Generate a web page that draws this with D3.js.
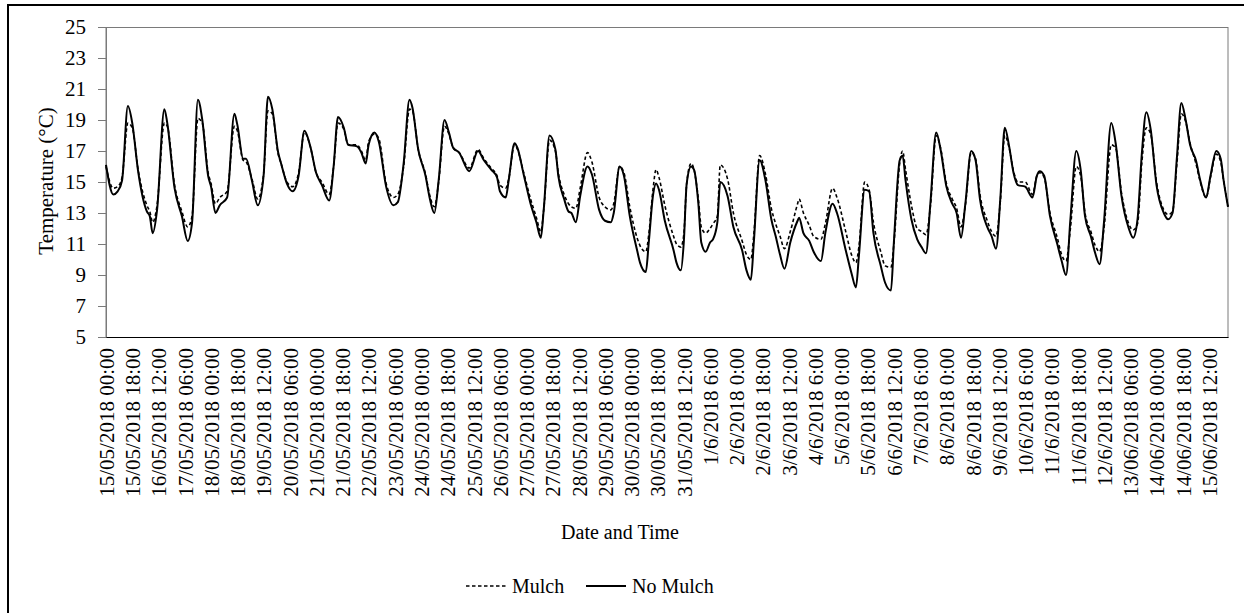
<!DOCTYPE html>
<html>
<head>
<meta charset="utf-8">
<script src="https://cdn.jsdelivr.net/npm/d3@7"></script>
<style>
  body { margin: 0; background: #fff; }
  text { font-family: "Liberation Serif", "Times New Roman", serif; fill: #000; }
</style>
</head>
<body>
<svg id="chart" width="1244" height="613"></svg>
<script>
// Hours elapsed since 15/05/2018 00:00 for each recorded point
const hours = [0,5,8,11,15,18,22,28,30,32,35,40,42,47,52,56,59,63,66,70,72,75,78,83,88,90,94,96,100,104,108,111,114,118,120,124,128,132,136,140,144,148,153,156,159,163,166,172,175,178,180,184,187,192,197,200,204,208,210,214,219,222,225,228,232,235,238,242,249,255,259,264,268,270,274,276,280,282,286,291,295,298,300,304,308,310,314,317,319,322,325,330,333,338,342,346,348,352,355,359,364,366,370,372,375,377,379,383,389,391,394,396,398,401,403,406,408,411,414,416,419,421,426,430,436,439,442,444,448,452,456,459,462,465,469,474,475,478,482,485,490,493,498,501,507,511,514,516,520,523,526,531,534,538,540,544,546,548,552,556,559,562,565,569,572,576,580,583,586,589,593,596,599,604,607,610,613,616,619,622,625,630,635,638,640,643,647,652,655,658,661,665,668,671,675,678,681,684,689,692,696,701,704,707,710,713,716,720,725,728,731,734,737,740,743,747,750,754,757,761,764,766,769];

// Temperature (°C) without mulch
const noMulch = [16.1,14.2,14.4,15.1,19.9,18.8,15.7,13.1,12.8,11.7,13.2,19.7,18.8,14.6,12.8,11.2,12.4,20.3,19.0,15.4,14.7,13.0,13.5,14.0,19.4,18.7,16.5,16.5,15.1,13.5,15.4,20.5,19.7,16.9,16.2,14.9,14.4,15.4,18.3,17.3,15.6,14.8,13.8,16.0,19.2,18.5,17.4,17.3,16.9,16.2,17.4,18.2,17.6,14.7,13.5,13.7,16.2,20.3,19.8,17.1,15.4,13.9,13.0,15.1,19.0,18.2,17.2,16.9,15.7,17.0,16.4,15.8,15.3,14.4,14.0,15.1,17.5,17.2,15.6,13.6,12.4,11.4,13.2,18.0,17.1,15.4,13.9,13.1,13.0,12.4,14.1,16.0,15.5,13.2,12.5,12.4,13.0,16.0,15.4,12.8,10.6,9.8,9.2,11.1,14.2,14.9,14.5,12.5,10.6,9.8,9.3,11.1,14.9,16.0,15.8,13.6,11.1,10.5,11.1,11.3,12.4,15.0,14.1,12.1,10.6,9.3,8.7,11.1,16.4,15.1,12.6,11.5,10.3,9.4,11.1,12.5,12.7,11.7,11.2,10.5,9.9,11.7,13.6,13.0,10.6,9.1,8.2,10.2,14.5,14.4,11.7,9.6,8.5,8.0,11.1,16.4,16.7,15.1,12.6,11.3,10.8,10.4,13.6,18.2,17.1,14.7,13.6,13.0,11.4,13.6,17.0,16.4,13.9,12.1,11.5,10.7,14.0,18.5,17.3,15.6,14.8,14.7,14.0,15.4,15.7,15.4,12.8,11.0,9.9,9.0,12.6,17.0,15.8,12.8,11.5,10.4,9.7,12.4,18.8,17.5,14.1,12.0,11.4,12.6,16.9,19.5,18.4,14.8,13.0,12.6,13.0,16.6,20.1,19.0,17.4,16.4,15.1,14.0,15.4,17.0,16.5,15.1,13.4];

// Temperature (°C) with mulch
const mulch = [16.0,14.6,14.7,15.3,18.8,18.5,15.8,13.5,13.1,12.4,13.5,18.8,18.6,14.8,13.1,12.1,12.8,19.1,18.8,15.6,14.9,13.6,14.0,14.4,18.6,18.3,16.4,16.3,15.2,13.9,15.5,19.6,19.4,16.8,16.2,15.0,14.7,15.6,18.2,17.3,15.6,15.0,14.2,16.0,18.8,18.4,17.4,17.4,17.0,16.4,17.6,18.1,17.8,14.9,14.0,14.2,16.0,19.7,19.6,17.1,15.5,14.1,13.4,15.0,18.6,18.1,17.2,16.9,15.9,17.1,16.5,15.9,15.4,14.8,14.6,15.2,17.4,17.1,15.7,13.9,12.7,11.8,13.2,17.7,17.0,15.6,14.2,13.6,13.4,13.3,14.6,16.9,16.3,14.0,13.4,13.2,13.6,16.0,15.6,13.4,11.4,10.9,10.5,11.6,14.6,15.8,15.3,13.5,11.5,11.0,10.8,11.6,14.9,16.2,15.8,13.9,12.1,11.7,12.0,12.3,12.8,16.1,15.2,13.0,11.2,10.3,10.0,11.6,16.7,15.5,13.3,12.3,11.5,10.7,11.8,13.6,13.9,13.0,12.2,11.5,11.3,12.3,14.6,14.0,11.8,10.3,9.8,10.8,15.0,14.5,12.4,10.5,9.6,9.5,11.0,16.2,17.0,15.8,13.5,12.0,11.8,11.6,13.4,18.0,17.2,14.9,13.9,13.3,12.1,13.5,16.9,16.5,14.2,12.5,11.8,11.5,13.8,18.0,17.2,15.7,15.0,15.0,14.2,15.4,15.6,15.3,13.0,11.4,10.3,9.9,12.0,16.0,15.4,13.0,11.8,10.9,10.5,12.0,17.4,17.2,14.3,12.3,11.9,12.3,16.3,18.5,18.1,15.0,13.2,12.9,13.1,16.2,19.4,18.9,17.5,16.2,15.0,14.0,15.3,16.8,16.3,15.1,13.4];

// Category labels shown every 18 hours
const xLabels = ["15/05/2018 00:00","15/05/2018 18:00","16/05/2018 12:00","17/05/2018 06:00","18/05/2018 00:00","18/05/2018 18:00","19/05/2018 12:00","20/05/2018 06:00","21/05/2018 00:00","21/05/2018 18:00","22/05/2018 12:00","23/05/2018 06:00","24/05/2018 00:00","24/05/2018 18:00","25/05/2018 12:00","26/05/2018 06:00","27/05/2018 00:00","27/05/2018 18:00","28/05/2018 12:00","29/05/2018 06:00","30/05/2018 00:00","30/05/2018 18:00","31/05/2018 12:00","1/6/2018 6:00","2/6/2018 0:00","2/6/2018 18:00","3/6/2018 12:00","4/6/2018 6:00","5/6/2018 0:00","5/6/2018 18:00","6/6/2018 12:00","7/6/2018 6:00","8/6/2018 0:00","8/6/2018 18:00","9/6/2018 12:00","10/6/2018 6:00","11/6/2018 0:00","11/6/2018 18:00","12/6/2018 12:00","13/06/2018 06:00","14/06/2018 00:00","14/06/2018 18:00","15/06/2018 12:00"];
const labelStep = 18;
const lastHour = 769;

const yTicks = [5,7,9,11,13,15,17,19,21,23,25];

const svg = d3.select("#chart");
const plot = { left: 106, right: 1228, top: 27, bottom: 337 };

const x = d3.scaleLinear().domain([0, lastHour]).range([plot.left, plot.right]);
const y = d3.scaleLinear().domain([5, 25]).range([plot.bottom, plot.top]);

// Outer chart frame
svg.append("rect")
  .attr("x", 8).attr("y", 5)
  .attr("width", 1300).attr("height", 700)
  .attr("fill", "none").attr("stroke", "#000").attr("stroke-width", 2);

// Plot area border
svg.append("rect")
  .attr("x", plot.left).attr("y", plot.top + 0.5)
  .attr("width", plot.right - plot.left).attr("height", plot.bottom - plot.top)
  .attr("fill", "none").attr("stroke", "#7a7a7a").attr("stroke-width", 1);

// Y axis
const yAxis = d3.axisLeft(y).tickValues(yTicks).tickSize(8).tickPadding(12).tickFormat(d3.format("d"));
const gy = svg.append("g").attr("transform", `translate(${plot.left},0)`).call(yAxis);
gy.select(".domain").attr("stroke", "#7a7a7a");
gy.selectAll(".tick line").attr("stroke", "#7a7a7a");
gy.selectAll(".tick text")
  .style("font-family", "'Liberation Serif', 'Times New Roman', serif")
  .style("font-size", "21px").attr("fill", "#000");

// X axis (category labels, rotated)
const tickHours = xLabels.map((_, i) => i * labelStep);
const xAxis = d3.axisBottom(x).tickValues(tickHours).tickSize(0).tickPadding(0)
  .tickFormat((d, i) => xLabels[i]);
const gx = svg.append("g").attr("transform", `translate(0,${plot.bottom})`).call(xAxis);
gx.select(".domain").attr("stroke", "#000").attr("stroke-width", 1.2);
gx.selectAll(".tick text")
  .style("font-family", "'Liberation Serif', 'Times New Roman', serif")
  .style("font-size", "21px").attr("fill", "#000")
  .attr("text-anchor", "end")
  .attr("transform", "rotate(-90)")
  .attr("x", -11).attr("y", 0).attr("dy", "0.35em");

// Series lines
const pts = key => hours.map((h, i) => [h, key[i]]);
const line = d3.line().x(d => x(d[0])).y(d => y(d[1])).curve(d3.curveMonotoneX);

svg.append("path")
  .datum(pts(mulch))
  .attr("d", line)
  .attr("fill", "none").attr("stroke", "#000")
  .attr("stroke-width", 1.6).attr("stroke-dasharray", "3.5,2.5");

svg.append("path")
  .datum(pts(noMulch))
  .attr("d", line)
  .attr("fill", "none").attr("stroke", "#000")
  .attr("stroke-width", 2).attr("stroke-linejoin", "round");

// Axis titles
svg.append("text")
  .attr("transform", "translate(53,181) rotate(-90)")
  .attr("text-anchor", "middle")
  .style("font-size", "21px")
  .text("Temperature (°C)");

svg.append("text")
  .attr("x", 620).attr("y", 539)
  .attr("text-anchor", "middle")
  .style("font-size", "20px")
  .text("Date and Time");

// Legend
const legend = svg.append("g");
legend.append("line")
  .attr("x1", 466).attr("x2", 508).attr("y1", 586).attr("y2", 586)
  .attr("stroke", "#000").attr("stroke-width", 1.6).attr("stroke-dasharray", "3.5,2.5");
legend.append("text").attr("x", 512).attr("y", 593).style("font-size", "20px").text("Mulch");
legend.append("line")
  .attr("x1", 586).attr("x2", 626).attr("y1", 586).attr("y2", 586)
  .attr("stroke", "#000").attr("stroke-width", 2);
legend.append("text").attr("x", 632).attr("y", 593).style("font-size", "20px").text("No Mulch");
</script>
</body>
</html>
